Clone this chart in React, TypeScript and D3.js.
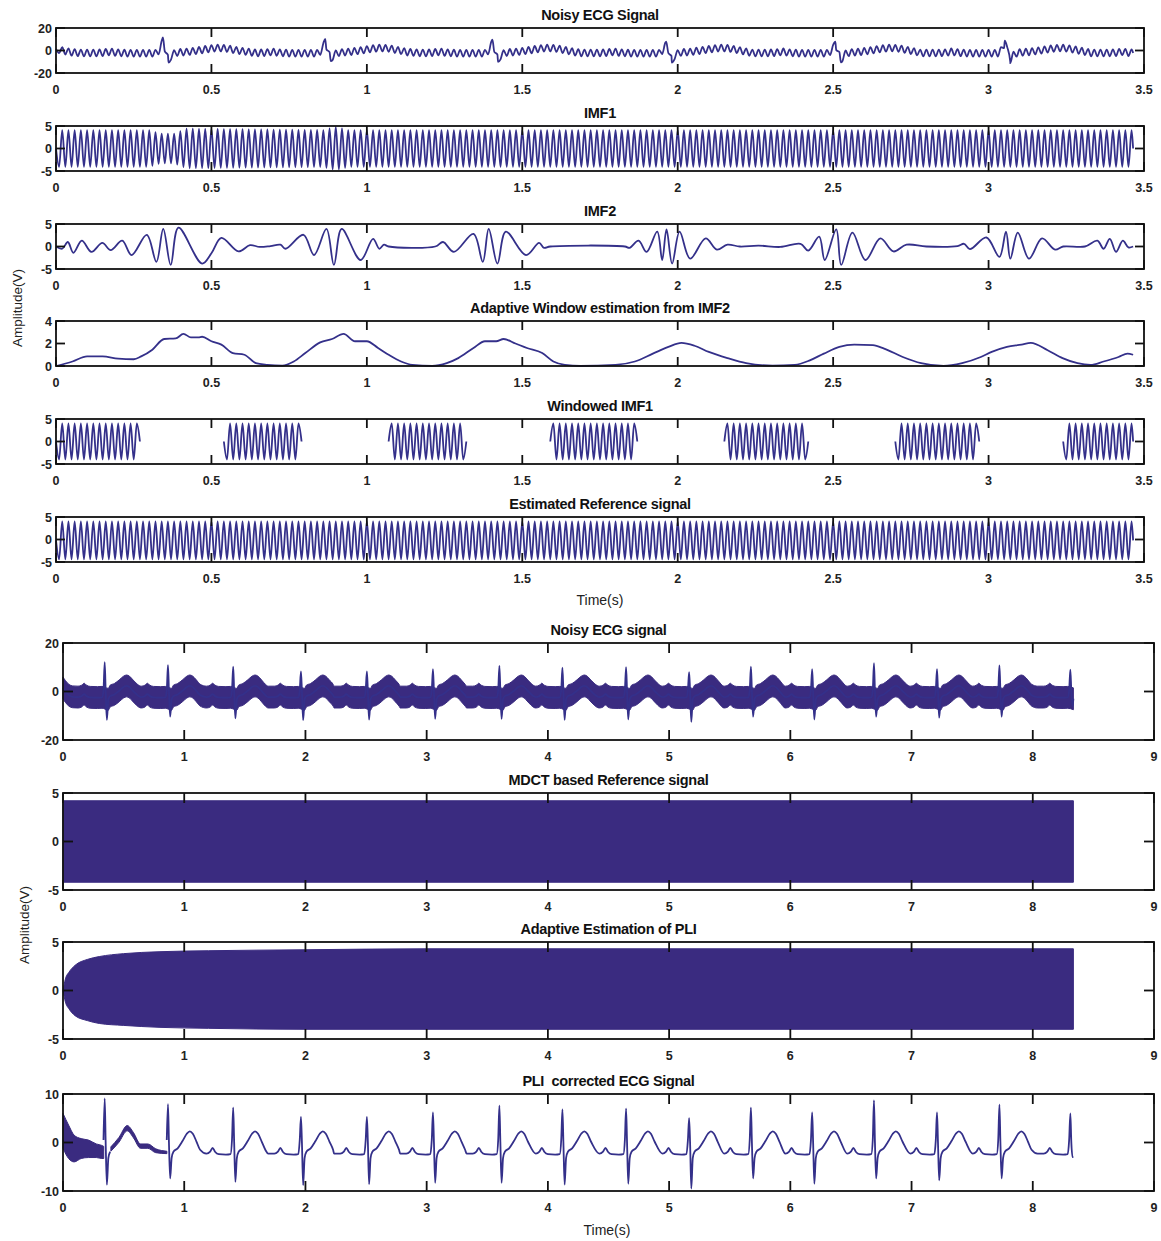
import * as d3 from "d3";

type Pt = [number, number];
type Band = [number, number, number];

// ---------- values ----------
const TOP_X_TICKS = [0, 0.5, 1, 1.5, 2, 2.5, 3, 3.5];
const BOTTOM_X_TICKS = [0, 1, 2, 3, 4, 5, 6, 7, 8, 9];

// power-line interference, cycles counted in the IMF1 row
const PLI_HZ = 50;

// R-peak times (s) and R / S amplitudes of the PLI-corrected ECG
const BEAT_T = [0.344, 0.866, 1.404, 1.963, 2.507, 3.052, 3.6, 4.12, 4.645, 5.165, 5.675, 6.18, 6.69, 7.21, 7.725, 8.31];
const BEAT_R = [9.1, 7.9, 7.2, 5.3, 5.3, 6.2, 7.6, 6.8, 7.0, 5.0, 7.2, 6.2, 8.7, 6.2, 7.8, 6.0];
const BEAT_S = [-8.7, -7.4, -8.1, -8.8, -8.6, -8.3, -8.3, -8.7, -8.5, -9.5, -7.4, -8.5, -7.4, -7.8, -7.4, -3.0];

// one heartbeat around its R peak: offset (s) and value, "R"/"S" taken from the arrays above
const BEAT_DT = [-0.27, -0.22, -0.19, -0.17, -0.15, -0.12, -0.06, -0.022, -0.01, 0, 0.008, 0.018, 0.03, 0.045, 0.08, 0.12, 0.155, 0.18, 0.205, 0.235, 0.265];
const BEAT_V: (number | string)[] = [-2.3, -2.3, -1.9, -1.1, -1.9, -2.4, -2.5, -2.4, 0.5, "R", 0, "S", -3.2, -1.9, -1.2, 0.3, 1.8, 2.3, 1.8, 0.2, -1.5];

const ECG_START_T = [0, 0.02, 0.05, 0.08];
const ECG_START_V = [1.5, 0.0, -1.6, -2.2];
const ECG_END = 8.335;
const ECG_END_V = -3.0;
const TOP_END = 3.465;

// noise amplitudes
const NOISY_TOP_AMP = 3;
const NOISY_BOTTOM_AMP = 4.5;

// IMF1 envelope
const IMF1_T = [0, 0.3, 0.335, 0.38, 0.42, 0.86, 0.9, 0.94, 3.465];
const IMF1_A = [4.1, 4.1, 3.3, 3.3, 4.4, 4.1, 4.8, 4.1, 4.1];

// IMF2
const IMF2_T = [0, 0.02, 0.038, 0.056, 0.083, 0.114, 0.149, 0.176, 0.213, 0.243, 0.292, 0.323, 0.345, 0.369, 0.394, 0.47, 0.5, 0.532, 0.587, 0.624, 0.655, 0.69, 0.722, 0.738, 0.796, 0.83, 0.87, 0.894, 0.919, 0.98, 1.02, 1.04, 1.055, 1.07, 1.22, 1.245, 1.28, 1.343, 1.373, 1.392, 1.42, 1.447, 1.512, 1.554, 1.57, 1.59, 1.83, 1.845, 1.874, 1.9, 1.934, 1.95, 1.964, 1.982, 2.006, 2.04, 2.09, 2.126, 2.16, 2.2, 2.26, 2.33, 2.395, 2.42, 2.455, 2.473, 2.51, 2.526, 2.562, 2.604, 2.652, 2.694, 2.736, 2.8, 2.9, 2.921, 2.94, 2.993, 3.035, 3.056, 3.07, 3.094, 3.13, 3.172, 3.214, 3.24, 3.31, 3.35, 3.37, 3.39, 3.41, 3.432, 3.45, 3.465];
const IMF2_V = [0, -0.5, 1.0, -1.4, 1.3, -1.2, 0.8, -0.8, 1.3, -1.9, 2.6, -3.4, 3.9, -4.1, 4.2, -3.8, -1.5, 1.9, -1.1, 0.3, -0.1, 0.1, 0.4, -0.5, 2.6, -1.9, 3.9, -4.1, 3.9, -3.0, 1.7, -0.5, 0.4, 0, 0, 1.0, -1.2, 2.8, -3.4, 3.9, -3.8, 3.3, -1.9, 0.8, -0.3, 0, 0, -0.3, 1.3, -1.2, 3.3, -3.0, 3.8, -3.8, 3.3, -2.7, 1.8, -0.7, 0.4, 0, 0.2, -0.1, 0.6, -0.9, 2.2, -3.0, 3.8, -4.1, 3.1, -3.0, 1.8, -1.1, 0.4, 0, 0.1, 0.6, -0.6, 2.0, -2.3, 3.3, -2.7, 3.1, -2.7, 1.8, -0.7, 0, 0, 1.3, -0.5, 1.7, -1.2, 1.3, -0.2, 0];

// adaptive window estimated from IMF2
const WIN_T = [0, 0.053, 0.1, 0.15, 0.2, 0.25, 0.274, 0.31, 0.348, 0.385, 0.41, 0.434, 0.458, 0.47, 0.5, 0.532, 0.569, 0.606, 0.643, 0.68, 0.728, 0.765, 0.802, 0.85, 0.888, 0.925, 0.962, 1.0, 1.036, 1.07, 1.11, 1.146, 1.21, 1.257, 1.294, 1.343, 1.38, 1.416, 1.44, 1.478, 1.515, 1.564, 1.6, 1.637, 1.687, 1.8, 1.862, 1.92, 1.97, 2.012, 2.054, 2.1, 2.16, 2.22, 2.305, 2.377, 2.425, 2.47, 2.52, 2.568, 2.628, 2.664, 2.724, 2.783, 2.855, 2.915, 2.975, 3.01, 3.059, 3.106, 3.136, 3.19, 3.238, 3.286, 3.328, 3.37, 3.418, 3.447, 3.465];
const WIN_V = [0, 0.4, 0.85, 0.85, 0.65, 0.6, 0.85, 1.45, 2.4, 2.45, 2.85, 2.55, 2.55, 2.6, 2.2, 1.9, 1.15, 1.0, 0.25, 0.1, 0.03, 0.4, 1.15, 2.1, 2.4, 2.85, 2.2, 2.2, 1.6, 1.0, 0.4, 0.1, 0, 0.25, 0.7, 1.6, 2.2, 2.2, 2.4, 2.0, 1.6, 1.15, 0.4, 0.1, 0, 0.1, 0.4, 1.1, 1.7, 2.05, 1.8, 1.25, 0.7, 0.25, 0.03, 0.1, 0.5, 1.1, 1.7, 1.9, 1.85, 1.55, 0.8, 0.25, 0, 0.25, 0.8, 1.25, 1.7, 1.9, 2.05, 1.4, 0.7, 0.25, 0.1, 0.4, 0.8, 1.1, 1.0];

// windowed IMF1 segments (start, end)
const WINDOW_START = [0, 0.54, 1.07, 1.59, 2.15, 2.7, 3.24];
const WINDOW_END = [0.27, 0.79, 1.32, 1.87, 2.42, 2.97, 3.465];
const WINDOWED_AMP = 4.0;

// estimated reference
const REF_AMP = 4.2;
const REF_OFFSET = -0.2;

// MDCT reference band
const MDCT_T = [0, 8.335];
const MDCT_UP = [4.2, 4.2];
const MDCT_LO = [-4.2, -4.2];

// adaptive estimate of PLI band
const PLIEST_T = [0, 0.02, 0.05, 0.1, 0.2, 0.3, 0.5, 0.8, 1.2, 2, 3, 8.335];
const PLIEST_UP = [0, 1.2, 1.9, 2.6, 3.2, 3.5, 3.8, 4.0, 4.1, 4.2, 4.3, 4.3];
const PLIEST_LO = [0, -1.2, -1.9, -2.6, -3.1, -3.4, -3.6, -3.8, -3.9, -4.0, -4.0, -4.0];

// start-up transient of the corrected ECG
const TRANS_A_T = [0, 0.046, 0.092, 0.15, 0.21, 0.275, 0.32, 0.336];
const TRANS_A_UP = [6.0, 3.6, 1.5, 0.8, 0.5, -0.3, -0.6, -0.8];
const TRANS_A_LO = [-1.2, -3.3, -4.0, -3.3, -3.1, -3.1, -3.3, -3.3];
const TRANS_B_T = [0.395, 0.46, 0.53, 0.58, 0.64, 0.7, 0.765, 0.857];
const TRANS_B_UP = [-0.9, 1.0, 3.5, 2.1, -0.3, -0.3, -1.3, -1.8];
const TRANS_B_LO = [-1.8, 0.0, 2.4, 1.0, -1.2, -1.2, -2.1, -2.3];

// ---------- styling / layout ----------
const W = 1161;
const H = 1241;
const LINE = "#34308a";
const FILL = "#3a2b80";
const FONT = "'Liberation Sans', Arial, Helvetica, sans-serif";

const TOP_L = 56, TOP_R = 1144, TOP_H = 45;
const TOP_Y = [28, 126, 224, 321, 419, 517];
const BOT_L = 63, BOT_R = 1154, BOT_H = 97;
const BOT_Y = [643, 793, 942, 1094];

// ---------- helpers ----------
function ecgPoints(rAdd = 0, sAdd = 0, noQrs = false): Pt[] {
  const pts: Pt[] = ECG_START_T.map((t, i) => [t, ECG_START_V[i]] as Pt);
  BEAT_T.forEach((bt, i) => {
    const lo = i === 0 ? ECG_START_T[ECG_START_T.length - 1] : (BEAT_T[i - 1] + bt) / 2;
    const hi = i === BEAT_T.length - 1 ? ECG_END : (bt + BEAT_T[i + 1]) / 2;
    BEAT_DT.forEach((dt, j) => {
      const t = bt + dt;
      if (t <= lo || t >= hi) return;
      if (noQrs && Math.abs(dt) < 0.02) return;
      const raw = BEAT_V[j];
      const v = raw === "R" ? BEAT_R[i] + rAdd : raw === "S" ? BEAT_S[i] + sAdd : (raw as number);
      pts.push([t, v]);
    });
  });
  pts.push([ECG_END, ECG_END_V]);
  return pts;
}

function interpOf(pts: Pt[]) {
  return d3.scaleLinear().domain(pts.map((d) => d[0])).range(pts.map((d) => d[1])).clamp(true);
}

// alternating PLI peaks on top of a base signal
function zigzag(t0: number, t1: number, amp: (t: number) => number, base: (t: number) => number): Pt[] {
  const half = 1 / (2 * PLI_HZ);
  const pts: Pt[] = [[t0, base(t0)]];
  for (let k = Math.ceil(t0 / half + 1e-6); k * half < t1; k++) {
    const t = k * half;
    pts.push([t, base(t) + (k % 2 === 0 ? 1 : -1) * amp(t)]);
  }
  pts.push([t1, base(t1)]);
  return pts;
}

const zip = (ts: number[], vs: number[]): Pt[] => ts.map((t, i) => [t, vs[i]] as Pt);
const zipBand = (ts: number[], up: number[], lo: number[]): Band[] => ts.map((t, i) => [t, up[i], lo[i]] as Band);

// ---------- series ----------
const ecgClean = ecgPoints();
const ecgAt = interpOf(ecgClean);

const noisyTop: Pt[] = (() => {
  const z = zigzag(0, TOP_END, () => NOISY_TOP_AMP, ecgAt);
  const qrs: Pt[] = [];
  BEAT_T.forEach((bt, i) => {
    if (bt > TOP_END) return;
    qrs.push([bt, BEAT_R[i] + 2.5], [bt + 0.018, BEAT_S[i] - 2]);
  });
  return [...z, ...qrs].sort((a, b) => a[0] - b[0]);
})();

const imf1Amp = interpOf(zip(IMF1_T, IMF1_A));
const imf1 = zigzag(0, TOP_END, imf1Amp, () => 0);
const imf2 = zip(IMF2_T, IMF2_V);
const adaptiveWin = zip(WIN_T, WIN_V);
const windowed = WINDOW_START.map((s, i) => zigzag(s, WINDOW_END[i], () => WINDOWED_AMP, () => 0));
const reference = zigzag(0, TOP_END, () => REF_AMP, () => REF_OFFSET);

const ecgSmooth = ecgPoints(0, 0, true);
const noisyBand: Band[] = ecgSmooth.map(([t, v]) => [t, v + NOISY_BOTTOM_AMP, v - NOISY_BOTTOM_AMP]);
const noisySpikes = ecgPoints(3, -3);
const mdctBand = zipBand(MDCT_T, MDCT_UP, MDCT_LO);
const pliBand = zipBand(PLIEST_T, PLIEST_UP, PLIEST_LO);
const transA = zipBand(TRANS_A_T, TRANS_A_UP, TRANS_A_LO);
const transB = zipBand(TRANS_B_T, TRANS_B_UP, TRANS_B_LO);
const inTransient = (t: number) =>
  (t < TRANS_A_T[TRANS_A_T.length - 1] - 0.004) ||
  (t > TRANS_B_T[0] + 0.004 && t < TRANS_B_T[TRANS_B_T.length - 1] - 0.004);

type PanelDef = {
  title: string;
  top: number;
  left: number;
  right: number;
  h: number;
  xDomain: [number, number];
  xTicks: number[];
  yDomain: [number, number];
  yTicks: number[];
  lines?: Pt[][];
  bands?: Band[][];
  lineWidth?: number;
  curve?: d3.CurveFactory;
  defined?: (t: number) => boolean;
  tickLen: number;
};

const top = (i: number, p: Partial<PanelDef>): PanelDef => ({
  title: "",
  top: TOP_Y[i],
  left: TOP_L,
  right: TOP_R,
  h: TOP_H,
  xDomain: [0, 3.5],
  xTicks: TOP_X_TICKS,
  yDomain: [-5, 5],
  yTicks: [-5, 0, 5],
  tickLen: 9,
  lineWidth: 1.8,
  curve: d3.curveMonotoneX,
  ...p,
});
const bottom = (i: number, p: Partial<PanelDef>): PanelDef => ({
  title: "",
  top: BOT_Y[i],
  left: BOT_L,
  right: BOT_R,
  h: BOT_H,
  xDomain: [0, 9],
  xTicks: BOTTOM_X_TICKS,
  yDomain: [-5, 5],
  yTicks: [-5, 0, 5],
  tickLen: 10,
  lineWidth: 1.8,
  curve: d3.curveMonotoneX,
  ...p,
});

const PANELS: PanelDef[] = [
  top(0, { title: "Noisy ECG Signal", yDomain: [-20, 20], yTicks: [-20, 0, 20], lines: [noisyTop] }),
  top(1, { title: "IMF1", lines: [imf1] }),
  top(2, { title: "IMF2", lines: [imf2], curve: d3.curveCatmullRom.alpha(0.5) }),
  top(3, { title: "Adaptive Window estimation from IMF2", yDomain: [0, 4], yTicks: [0, 2, 4], lines: [adaptiveWin] }),
  top(4, { title: "Windowed IMF1", lines: windowed }),
  top(5, { title: "Estimated Reference signal", lines: [reference] }),
  bottom(0, { title: "Noisy ECG signal", yDomain: [-20, 20], yTicks: [-20, 0, 20], bands: [noisyBand], lines: [noisySpikes] }),
  bottom(1, { title: "MDCT based Reference signal", bands: [mdctBand] }),
  bottom(2, { title: "Adaptive Estimation of PLI", bands: [pliBand] }),
  bottom(3, {
    title: "PLI  corrected ECG Signal",
    yDomain: [-10, 10],
    yTicks: [-10, 0, 10],
    bands: [transA, transB],
    lines: [ecgClean],
    defined: (t) => !inTransient(t),
  }),
];

function Panel({ p }: { p: PanelDef }) {
  const x = d3.scaleLinear().domain(p.xDomain).range([p.left, p.right]);
  const y = d3.scaleLinear().domain(p.yDomain).range([p.top + p.h, p.top]);
  const line = d3
    .line<Pt>()
    .defined((d) => (p.defined ? p.defined(d[0]) : true))
    .x((d) => x(d[0]))
    .y((d) => y(d[1]))
    .curve(p.curve || d3.curveLinear);
  const area = d3
    .area<Band>()
    .x((d) => x(d[0]))
    .y0((d) => y(d[2]))
    .y1((d) => y(d[1]))
    .curve(d3.curveMonotoneX);
  const bottomY = p.top + p.h;
  const tl = p.tickLen;
  return (
    <g>
      {(p.bands || []).map((b, i) => (
        <path key={"b" + i} d={area(b) || ""} fill={FILL} stroke={FILL} strokeWidth={1} />
      ))}
      {(p.lines || []).map((l, i) => (
        <path
          key={"l" + i}
          d={line(l) || ""}
          fill="none"
          stroke={LINE}
          strokeWidth={p.lineWidth}
          strokeLinejoin="round"
        />
      ))}
      <rect x={p.left} y={p.top} width={p.right - p.left} height={p.h} fill="none" stroke="#111" strokeWidth={1.8} />
      {p.xTicks.map((t) => (
        <g key={"xt" + t}>
          <line x1={x(t)} x2={x(t)} y1={p.top} y2={p.top + tl} stroke="#111" strokeWidth={1.8} />
          <line x1={x(t)} x2={x(t)} y1={bottomY} y2={bottomY - tl} stroke="#111" strokeWidth={1.8} />
          <text x={x(t)} y={bottomY + 21} textAnchor="middle" fontSize={12.5} fontWeight="bold" fill="#222">
            {t}
          </text>
        </g>
      ))}
      {p.yTicks.map((t) => (
        <g key={"yt" + t}>
          <line x1={p.left} x2={p.left + tl} y1={y(t)} y2={y(t)} stroke="#111" strokeWidth={1.8} />
          <line x1={p.right} x2={p.right - tl} y1={y(t)} y2={y(t)} stroke="#111" strokeWidth={1.8} />
          <text x={p.left - 4} y={y(t)} dy="0.36em" textAnchor="end" fontSize={12.5} fontWeight="bold" fill="#222">
            {t}
          </text>
        </g>
      ))}
      <text
        x={(p.left + p.right) / 2}
        y={p.top - 8}
        textAnchor="middle"
        fontSize={14.5}
        fontWeight="bold"
        fill="#111"
        letterSpacing={-0.3}
        style={{ whiteSpace: "pre" }}
      >
        {p.title}
      </text>
    </g>
  );
}

export default function App() {
  return (
    <div style={{ position: "absolute", left: 0, top: 0, width: W, height: H, background: "#fff" }}>
      <svg width={W} height={H} fontFamily={FONT} style={{ display: "block" }}>
        <rect width={W} height={H} fill="#fff" />
        {PANELS.map((p) => (
          <Panel key={p.title} p={p} />
        ))}
        <text x={600} y={605} textAnchor="middle" fontSize={14} fill="#222">
          Time(s)
        </text>
        <text x={607} y={1235} textAnchor="middle" fontSize={14} fill="#222">
          Time(s)
        </text>
        <text transform="translate(22,308) rotate(-90)" textAnchor="middle" fontSize={13.5} fill="#222">
          Amplitude(V)
        </text>
        <text transform="translate(29,925) rotate(-90)" textAnchor="middle" fontSize={13.5} fill="#222">
          Amplitude(V)
        </text>
      </svg>
    </div>
  );
}
